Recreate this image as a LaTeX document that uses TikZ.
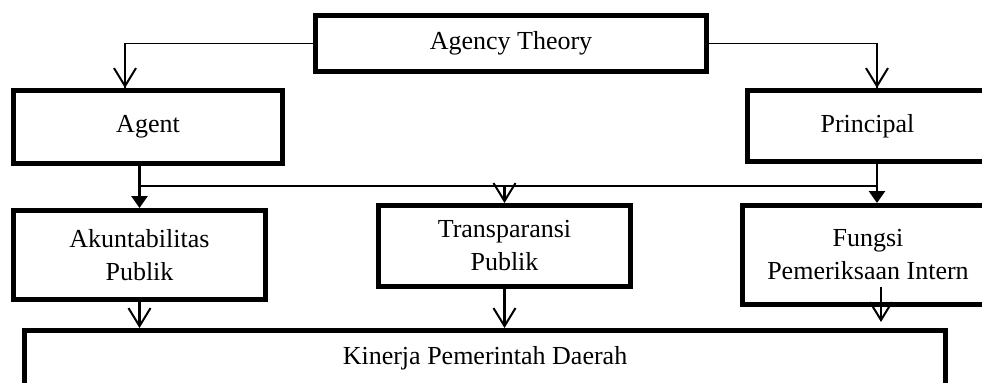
\documentclass[tikz,border=0pt]{standalone}
\usepackage{fontspec}
\setmainfont{Liberation Serif}
\usetikzlibrary{arrows.meta}
\tikzset{
	box/.style={draw, line width=2.5pt, align=center, inner sep=0pt, font=\fontsize{13}{16.5}\selectfont},
	openhead/.style={-{Straight Barb[length=9pt,width=11pt,line width=1pt]}, line width=1.3pt},
	fillhead/.style={-{Triangle[length=6pt,width=8pt]}, line width=1.3pt},
	bar/.style={line width=0.9pt}
}

\begin{document}
\begin{tikzpicture}[x=0.5pt, y=-0.5pt]
		%%%%% START %%%%%
		\useasboundingbox (0, 0) rectangle (982, 382);
		
		\node[box, minimum width=195.5pt, minimum height=28pt] (theory) at (511, 43.5) {Agency Theory};
		
		\node[box, minimum width=134.5pt, minimum height=36.5pt] (agent) at (148, 127) {Agent};
		\node[box, minimum width=120pt, minimum height=35.5pt] (principal) at (867.5, 126) {Principal};
		
		\node[box, minimum width=126pt, minimum height=44.5pt] (akun) at (139.5, 255) {Akuntabilitas\\Publik};
		\node[box, minimum width=126pt, minimum height=40.5pt] (trans) at (504.5, 246) {Transparansi\\Publik};
		\node[box, minimum width=125.5pt, minimum height=49.5pt] (fungsi) at (868, 255) {Fungsi\\Pemeriksaan Intern};
		
		\node[box, minimum width=460.5pt, minimum height=27.5pt] (kinerja) at (485, 358) {Kinerja Pemerintah Daerah};
		
		\coordinate (bus) at (0, 186);
		\coordinate (pdown) at ([xshift=4.75pt]principal.south);
		\coordinate (fdown) at ([xshift=6.5pt, yshift=10pt]fungsi.south);
		
		\draw[bar] (theory.west) -| ([xshift=-11.5pt]agent.north);
		\draw[openhead] ([xshift=-11.5pt, yshift=20pt]agent.north) -- ([xshift=-11.5pt]agent.north);
		\draw[bar] (theory.east) -| ([xshift=4.75pt]principal.north);
		\draw[openhead] ([xshift=4.75pt, yshift=20pt]principal.north) -- ([xshift=4.75pt]principal.north);
		
		\draw[bar] (akun.north |- bus) -- (pdown |- bus);
		\draw[fillhead] (akun.north |- agent.south) -- (akun.north);
		\draw[openhead] (trans.north |- bus) -- (trans.north);
		\draw[fillhead] (pdown) -- (pdown |- fungsi.north);
		
		\draw[openhead] (akun.south) -- (akun.south |- kinerja.north);
		\draw[openhead] (trans.south) -- (trans.south |- kinerja.north);
		\draw[openhead] (fdown) -- ([yshift=3pt]fdown |- kinerja.north);
		
		%%%%% END %%%%%
\end{tikzpicture}
\end{document}
